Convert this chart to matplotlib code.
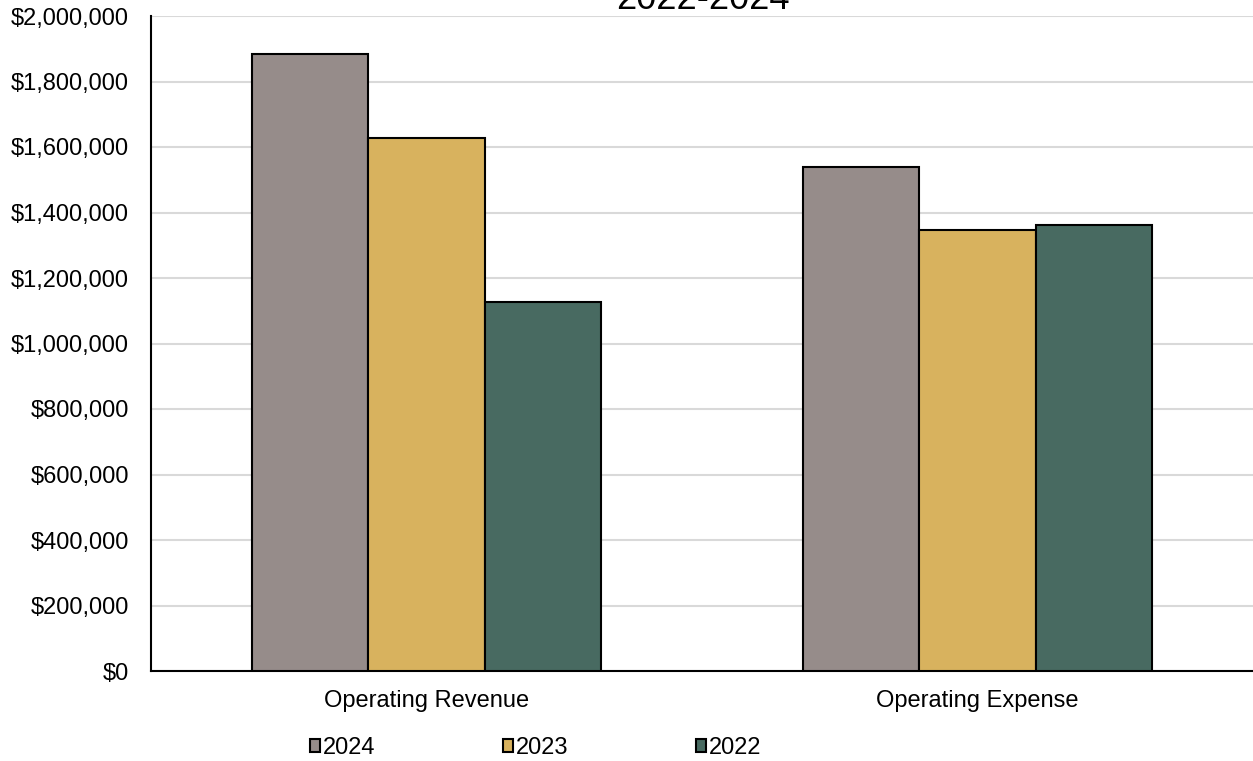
import matplotlib

matplotlib.use("Agg")
import matplotlib.pyplot as plt
import numpy as np
from matplotlib.ticker import FuncFormatter

plt.rcParams["font.family"] = ["Liberation Sans", "DejaVu Sans"]

categories = ["Operating Revenue", "Operating Expense"]
years = ["2024", "2023", "2022"]
values_2024 = [1884000, 1539000]
values_2023 = [1627000, 1347000]
values_2022 = [1127000, 1362000]
colors = ["#968c8a", "#d8b25e", "#486a61"]

fig = plt.figure(figsize=(12.53, 7.61), dpi=100)
ax = fig.add_axes([151 / 1253, 90 / 761, 1102 / 1253, 655 / 761])

x = np.arange(len(categories))
width = 0.211
series = [values_2024, values_2023, values_2022]
for i, (year, vals, color) in enumerate(zip(years, series, colors)):
    ax.bar(x + (i - 1) * width, vals, width, color=color, edgecolor="black",
           linewidth=1.5, label=year, zorder=3)

ax.set_xlim(-0.5, 1.5)
ax.set_ylim(0, 2000000)
ax.set_yticks(np.arange(0, 2000001, 200000))
ax.yaxis.set_major_formatter(FuncFormatter(lambda v, _: f"${v:,.0f}"))
ax.set_xticks(x)
ax.set_xticklabels(categories)
ax.tick_params(axis="both", length=0, labelsize=17)
ax.tick_params(axis="x", pad=14)
ax.tick_params(axis="y", pad=16)

ax.grid(axis="y", color="#d9d9d9", linewidth=1.5, zorder=0)
for side in ("top", "right"):
    ax.spines[side].set_visible(False)
for side in ("left", "bottom"):
    ax.spines[side].set_color("black")
    ax.spines[side].set_linewidth(1.5)

# two-line title; the chart area starts right under it so the top line sits off the canvas
fig.text(703 / 1253, 1 - 9 / 761, "Operating Revenue and Expense\n2022-2024",
         ha="center", va="baseline", fontsize=26, linespacing=1.0)

ax.legend(loc="center", bbox_to_anchor=(0.349, -0.1175), ncol=3, frameon=False,
          fontsize=17, handlelength=0.45, handleheight=0.5, handletextpad=0.1,
          columnspacing=5.4)

fig.savefig("out.png", dpi=100)
